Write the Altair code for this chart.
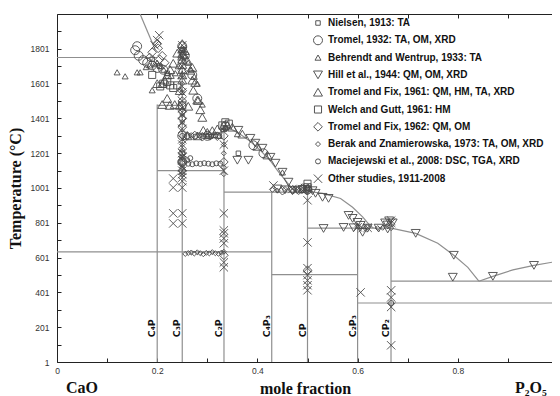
import altair as alt
import pandas as pd

W, H = 501, 348
T_DOMAIN = [1, 2000]

series_names = [
    "Nielsen, 1913: TA",
    "Tromel, 1932: TA, OM, XRD",
    "Behrendt and Wentrup, 1933: TA",
    "Hill et al., 1944: QM, OM, XRD",
    "Tromel and Fix, 1961: QM, HM, TA, XRD",
    "Welch and Gutt, 1961: HM",
    "Tromel and Fix, 1962: QM, OM",
    "Berak and Znamierowska, 1973: TA, OM, XRD",
    "Maciejewski et al., 2008: DSC, TGA, XRD",
    "Other studies, 1911-2008",
]
series_shapes = ["square", "circle", "triangle-up", "triangle-down", "triangle-up",
                 "square", "diamond", "diamond", "circle", "M-1,-1L1,1M-1,1L1,-1"]
series_sizes = [20, 80, 36, 80, 80, 50, 75, 25, 25, 70]

nielsen_x = [0.362, 0.19, 0.205, 0.25, 0.336, 0.5, 0.22]
nielsen_t = [1200, 1740, 1700, 1790, 1345, 1000, 1660]

tromel32_x = [0.156, 0.16, 0.163, 0.172, 0.18, 0.19, 0.2, 0.212, 0.25, 0.255, 0.27, 0.28,
              0.3, 0.336, 0.392, 0.412, 0.5, 0.25, 0.25]
tromel32_t = [1792, 1815, 1760, 1735, 1720, 1705, 1690, 1680, 1815, 1760, 1650, 1515,
              1300, 1355, 1246, 1200, 992, 1300, 1150]

behrendt_x = [0.12, 0.136, 0.16, 0.166, 0.19, 0.178, 0.185, 0.195, 0.2, 0.207, 0.213, 0.22,
              0.228, 0.236, 0.242, 0.247, 0.25, 0.256, 0.262, 0.268, 0.274, 0.28, 0.29, 0.3,
              0.312, 0.324, 0.333, 0.36, 0.45, 0.49]
behrendt_t = [1665, 1642, 1665, 1665, 1562, 1695, 1705, 1712, 1720, 1700, 1680, 1660,
              1645, 1660, 1700, 1750, 1795, 1760, 1720, 1680, 1640, 1600, 1480, 1300,
              1305, 1300, 1340, 1310, 1090, 990]

hill_x = [0.362, 0.386, 0.396, 0.41, 0.426, 0.436, 0.45, 0.462, 0.36, 0.382,
          0.44, 0.455, 0.47, 0.48, 0.49, 0.51, 0.516, 0.53, 0.542,
          0.582, 0.59, 0.6, 0.606, 0.532, 0.572, 0.592, 0.61, 0.62, 0.642, 0.66,
          0.655, 0.663, 0.67, 0.66, 0.716, 0.792, 0.79, 0.87, 0.952]
hill_t = [1332, 1286, 1258, 1229, 1177, 1143, 1091, 1034, 1160, 1160,
          995, 990, 985, 988, 992, 985, 970, 947, 941,
          843, 826, 803, 786, 768, 774, 772, 746, 770, 770, 765,
          800, 812, 800, 788, 740, 614, 488, 493, 556]

tf61_x = [0.25, 0.25, 0.25, 0.25, 0.25, 0.25, 0.25, 0.25,
          0.24, 0.232, 0.226, 0.22, 0.215, 0.21, 0.22, 0.2,
          0.26, 0.266, 0.27, 0.272, 0.28, 0.27, 0.276, 0.282, 0.29, 0.292, 0.286,
          0.21, 0.225, 0.235, 0.245, 0.3, 0.31, 0.32, 0.333, 0.34, 0.35,
          0.37, 0.4, 0.42, 0.26, 0.28, 0.255, 0.245, 0.262]
tf61_t = [1830, 1800, 1770, 1740, 1710, 1680, 1650, 1620,
          1775, 1717, 1680, 1650, 1620, 1600, 1515, 1600,
          1734, 1677, 1620, 1562, 1505, 1693, 1607, 1504, 1406, 1332, 1450,
          1480, 1475, 1480, 1475, 1320, 1330, 1340, 1360, 1362, 1350,
          1310, 1240, 1190, 1300, 1300, 1790, 1560, 1470]

welch_x = [0.206, 0.212, 0.226, 0.232, 0.24, 0.22, 0.19, 0.336, 0.33, 0.343, 0.5, 0.5, 0.25]
welch_t = [1584, 1600, 1590, 1575, 1590, 1610, 1650, 1378, 1360, 1370, 1025, 1005, 1475]

tf62_x = [0.2, 0.202, 0.19, 0.21, 0.205, 0.215, 0.185,
          0.25, 0.25, 0.25, 0.25, 0.25, 0.25, 0.25, 0.25,
          0.26, 0.275, 0.29, 0.305, 0.32, 0.333,
          0.333, 0.5, 0.5, 0.49, 0.47, 0.45, 0.333]
tf62_t = [1830, 1803, 1780, 1760, 1740, 1720, 1750,
          1560, 1500, 1440, 1400, 1350, 1200, 1150, 1100,
          1300, 1302, 1295, 1300, 1298, 1300,
          614, 528, 995, 1000, 990, 985, 1150]

berak_x = [0.256, 0.262, 0.268, 0.274, 0.28, 0.286, 0.292, 0.298, 0.304, 0.31, 0.316, 0.322,
           0.328, 0.333, 0.25, 0.25, 0.25, 0.25, 0.25, 0.25, 0.25, 0.25, 0.25, 0.25, 0.25,
           0.333, 0.333, 0.333, 0.333, 0.43, 0.44, 0.455, 0.47, 0.48, 0.5, 0.5,
           0.6, 0.62, 0.64, 0.65, 0.667]
berak_t = [622, 627, 630, 624, 631, 626, 620, 628, 625, 632, 626, 623,
           629, 634, 1650, 1600, 1550, 1450, 1420, 1380, 1250, 1220, 1180, 1120, 1080,
           1250, 1200, 1120, 1080, 990, 985, 995, 985, 990, 1000, 975,
           780, 775, 770, 772, 770]

mac_x = [0.262, 0.27, 0.278, 0.286, 0.294, 0.302, 0.31, 0.318, 0.326, 0.26, 0.266,
         0.26, 0.268, 0.276, 0.284, 0.292, 0.3, 0.308, 0.316, 0.324,
         0.667, 0.25, 0.25, 0.25, 0.5]
mac_t = [1140, 1137, 1142, 1139, 1143, 1140, 1137, 1142, 1140, 1160, 1172,
         1298, 1302, 1296, 1303, 1299, 1301, 1297, 1302, 1300,
         340, 1300, 1150, 1200, 990]

other_x = [0.204, 0.2, 0.195,
           0.25, 0.25, 0.25, 0.25, 0.25, 0.25, 0.25, 0.25, 0.25, 0.25, 0.25, 0.25,
           0.25, 0.25, 0.25, 0.25, 0.25, 0.25, 0.25, 0.25, 0.25, 0.25, 0.25, 0.25,
           0.232, 0.232, 0.232, 0.232,
           0.333, 0.333, 0.333, 0.333, 0.333, 0.333, 0.333, 0.333, 0.333,
           0.5, 0.5, 0.5, 0.5, 0.5, 0.5, 0.5,
           0.606, 0.667, 0.667, 0.667, 0.667, 0.667, 0.667,
           0.47, 0.48, 0.49, 0.5, 0.495, 0.432, 0.6, 0.61, 0.62]
other_t = [1878, 1850, 1820,
           1820, 1780, 1750, 1700, 1650, 1550, 1500, 1460, 1420, 1380, 1340, 1280,
           1250, 1200, 1180, 1160, 1120, 1100, 1080, 1060, 1040, 1003, 855, 797,
           1055, 1003, 855, 797,
           1250, 1100, 855, 757, 740, 711, 683, 573, 545,
           930, 688, 540, 500, 470, 442, 413,
           401, 813, 800, 413, 372, 317, 97,
           995, 990, 985, 995, 1000, 1015, 775, 770, 772]

# phase boundary straight segments
seg_x1 = [0, 0.2, 0.2, 0.3333, 0, 0.4286, 0.5, 0.6, 0.6667,
          0.2, 0.25, 0.3333, 0.4286, 0.5, 0.6, 0.6667]
seg_t1 = [1750, 1475, 1100, 977, 634, 503, 770, 340, 465,
          1, 1, 1, 1, 1, 1, 1]
seg_x2 = [0.2, 0.25, 0.3333, 0.5, 0.4286, 0.6, 0.6667, 1, 1,
          0.2, 0.25, 0.3333, 0.4286, 0.5, 0.6, 0.6667]
seg_t2 = [1750, 1475, 1100, 977, 634, 503, 770, 340, 465,
          1480, 1810, 1360, 977, 985, 770, 770]

# liquidus curves
curve_id = ["a"] * 2 + ["b"] * 8 + ["c"] * 7 + ["d"] * 6 + ["e"] * 5
curve_x = [0.166, 0.196,
           0.3333, 0.36, 0.385, 0.406, 0.425, 0.441, 0.46, 0.476,
           0.5, 0.53, 0.566, 0.59, 0.61, 0.626, 0.632,
           0.6667, 0.716, 0.76, 0.792, 0.82, 0.842,
           0.842, 0.87, 0.91, 0.952, 1.0]
curve_t = [1998, 1795,
           1360, 1320, 1270, 1217, 1160, 1097, 1030, 977,
           982, 970, 940, 890, 835, 780, 770,
           770, 740, 683, 614, 545, 465,
           465, 493, 530, 556, 580]

compound_names = ["C₄P", "C₃P", "C₂P", "C₄P₃", "CP", "C₂P₃", "CP₂"]
compound_x = [0.2, 0.25, 0.3333, 0.4286, 0.5, 0.6, 0.6667]
compound_t = [143, 143, 143, 143, 143, 143, 143]

end_labels = ["CaO", "P₂O₅"]
end_x = [0.05, 0.946]

x_tick_vals = [0, 0.1, 0.2, 0.3, 0.4, 0.5, 0.6, 0.7, 0.8, 0.9, 1]
y_tick_vals = [1, 101, 201, 301, 401, 501, 601, 701, 801, 901, 1001, 1101, 1201, 1301,
               1401, 1501, 1601, 1701, 1801, 1901]

all_x = [nielsen_x, tromel32_x, behrendt_x, hill_x, tf61_x, welch_x, tf62_x, berak_x, mac_x, other_x]
all_t = [nielsen_t, tromel32_t, behrendt_t, hill_t, tf61_t, welch_t, tf62_t, berak_t, mac_t, other_t]
rows = []
for name, xs_, ts_ in zip(series_names, all_x, all_t):
    for xv, tv in zip(xs_, ts_):
        rows.append({"x": xv, "t": tv, "series": name})
pts = pd.DataFrame(rows)

segs = pd.DataFrame({"x": seg_x1, "t": seg_t1, "x2": seg_x2, "t2": seg_t2})
curves = pd.DataFrame({"cid": curve_id, "x": curve_x, "t": curve_t,
                       "ord": list(range(len(curve_x)))})
comps = pd.DataFrame({"name": compound_names, "x": compound_x, "t": compound_t})
ends = pd.DataFrame({"name": end_labels, "x": end_x})

xs = alt.Scale(domain=[0, 1], nice=False, zero=False)
ys = alt.Scale(domain=T_DOMAIN, nice=False, zero=False)
LINE = "#8f8f8f"

# bottom/left axes: inward ticks through a negative offset, labels every other tick
x_axis = alt.Axis(values=x_tick_vals, format="~g", orient="bottom", offset=-4, tickSize=4,
                  tickColor="#222", tickWidth=1, domain=False, grid=False,
                  labelExpr="(round(datum.value * 10) % 2 == 0) ? datum.label : ''",
                  labelFont="Liberation Sans", labelFontSize=8.5, labelColor="#333",
                  labelPadding=4, labelFlush=False,
                  title="mole fraction", titleFont="Liberation Serif", titleFontSize=16,
                  titleFontWeight="bold", titleColor="#111", titleX=248, titleY=35,
                  titleBaseline="alphabetic", titleAlign="center")
y_axis = alt.Axis(values=y_tick_vals, format="d", orient="left", offset=-4, tickSize=4,
                  tickColor="#222", tickWidth=1, domain=False, grid=False,
                  labelExpr="(round((datum.value - 1) / 100) % 2 == 0) ? datum.label : ''",
                  labelFont="Liberation Sans", labelFontSize=8.5, labelColor="#333",
                  labelPadding=8, labelFlush=False,
                  title="Temperature (°C)", titleFont="Liberation Serif", titleFontSize=16,
                  titleFontWeight="bold", titleColor="#111", titleX=-46, titleY=174,
                  titleAngle=270, titleAlign="center", titleBaseline="middle")
x_axis_top = alt.Axis(values=x_tick_vals, orient="top", offset=-4, tickSize=4, tickColor="#222",
                      domain=False, grid=False, labels=False, title=None)
y_axis_right = alt.Axis(values=y_tick_vals, orient="right", offset=-4, tickSize=4, tickColor="#222",
                        domain=False, grid=False, labels=False, title=None)

leg = dict(title=None, orient="none", legendX=256, legendY=3,
           labelFont="Liberation Sans", labelFontWeight="bold", labelFontSize=10,
           labelColor="#111", labelOffset=5, labelLimit=400, rowPadding=5.3,
           clipHeight=12, symbolStrokeColor="#555", symbolStrokeWidth=1)

seg_layer = alt.Chart(segs).mark_rule(color=LINE, strokeWidth=1.2).encode(
    x=alt.X("x:Q", scale=xs, axis=x_axis), x2="x2:Q",
    y=alt.Y("t:Q", scale=ys, axis=y_axis), y2="t2:Q")

curve_layer = alt.Chart(curves).mark_line(color=LINE, strokeWidth=1.2, clip=True).encode(
    x=alt.X("x:Q", scale=xs, axis=x_axis_top), y=alt.Y("t:Q", scale=ys, axis=y_axis_right),
    detail="cid:N", order="ord:Q")

pt_layer = alt.Chart(pts).mark_point(filled=False, color="#4a4a4a", strokeWidth=0.9, opacity=1).encode(
    x=alt.X("x:Q", scale=xs, axis=None),
    y=alt.Y("t:Q", scale=ys, axis=None),
    shape=alt.Shape("series:N", scale=alt.Scale(domain=series_names, range=series_shapes),
                    legend=alt.Legend(**leg)),
    size=alt.Size("series:N", scale=alt.Scale(type="ordinal", domain=series_names, range=series_sizes),
                  legend=alt.Legend(**leg)),
)

comp_layer = alt.Chart(comps).mark_text(angle=270, align="left", baseline="bottom",
                                        font="DejaVu Sans", fontWeight="bold",
                                        fontSize=9.5, color="#111").encode(
    x=alt.X("x:Q", scale=xs, axis=None), y=alt.Y("t:Q", scale=ys, axis=None), text="name:N")

end_layer = alt.Chart(ends).mark_text(font="Liberation Serif", fontWeight="bold", fontSize=16,
                                      baseline="alphabetic", align="center", color="#111").encode(
    x=alt.X("x:Q", scale=xs, axis=None), y=alt.value(H + 31), text="name:N")

# the page is 560px wide: keep the SVG within it (the last few px of the plot fall past the edge)
chart = alt.layer(seg_layer, curve_layer, pt_layer, comp_layer, end_layer).resolve_axis(
    x="independent", y="independent"
).properties(
    width=W, height=H,
    autosize=alt.AutoSizeParams(type="none"),
    padding={"left": 49, "top": 6, "right": -6, "bottom": 40},
    background="white",
).configure_view(stroke="#222", strokeWidth=1)

chart.save("out.html", embed_options={"renderer": "svg", "actions": False})
